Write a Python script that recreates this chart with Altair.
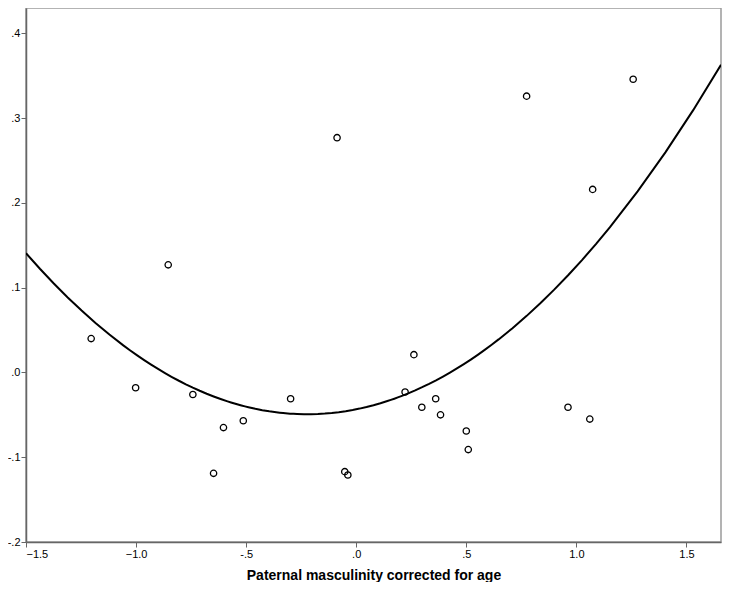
import altair as alt
import pandas as pd

# Data
x_vals = [-1.204, -1.002, -0.854, -0.742, -0.603, -0.648, -0.513, -0.298, -0.087,
          -0.052, -0.038, 0.222, 0.262, 0.298, 0.361, 0.383, 0.500, 0.509,
          0.774, 0.962, 1.061, 1.074, 1.258]
y_vals = [0.040, -0.018, 0.127, -0.026, -0.065, -0.119, -0.057, -0.031, 0.277,
          -0.117, -0.121, -0.023, 0.021, -0.041, -0.031, -0.050, -0.069, -0.091,
          0.326, -0.041, -0.055, 0.216, 0.346]
x_ticks = [-1.5, -1.0, -0.5, 0.0, 0.5, 1.0, 1.5]
y_ticks = [-0.2, -0.1, 0.0, 0.1, 0.2, 0.3, 0.4]
x_title = "Paternal masculinity corrected for age"

df = pd.DataFrame({"x": x_vals, "y": y_vals})

X_DOMAIN = [-1.5, 1.657]
Y_DOMAIN = [-0.2, 0.43]

label_expr = ("abs(datum.value) < 1 ? (datum.value < -0.00001 ? '-' : '') + '.' + "
              "format(abs(datum.value) * 10, '.0f') : format(datum.value, '.1f')")

FONT = "Liberation Sans"

x_enc = alt.X("x:Q", scale=alt.Scale(domain=X_DOMAIN, nice=False, zero=False),
              axis=alt.Axis(values=x_ticks, labelExpr=label_expr, title=x_title,
                            grid=False))
y_enc = alt.Y("y:Q", scale=alt.Scale(domain=Y_DOMAIN, nice=False, zero=False),
              axis=alt.Axis(values=y_ticks, labelExpr=label_expr, title=None,
                            grid=False))

points = alt.Chart(df).mark_point(
    shape="circle", filled=False, color="black", size=40, strokeWidth=1.3, opacity=1
).encode(x=x_enc, y=y_enc)

curve = alt.Chart(df).transform_regression(
    "x", "y", method="poly", order=2, extent=X_DOMAIN
).mark_line(color="black", strokeWidth=2, clip=True).encode(x=x_enc, y=y_enc)

chart = alt.layer(curve, points).properties(
    width=695,
    height=534,
    autosize=alt.AutoSizeParams(type="none"),
    padding={"left": 18, "top": 0, "right": 2, "bottom": 40},
    background="white",
).configure_view(
    stroke="#9a9a9a", strokeWidth=1.5
).configure_axis(
    labelFont=FONT, labelFontSize=11, labelColor="black",
    titleFont=FONT, titleFontSize=14, titleFontWeight="bold", titleColor="black",
    domainColor="#666666", domainWidth=1.5, tickColor="#666666", tickSize=5,
    labelPadding=1, titlePadding=9,
)

chart.save("out.html", embed_options={"renderer": "svg", "actions": False})
